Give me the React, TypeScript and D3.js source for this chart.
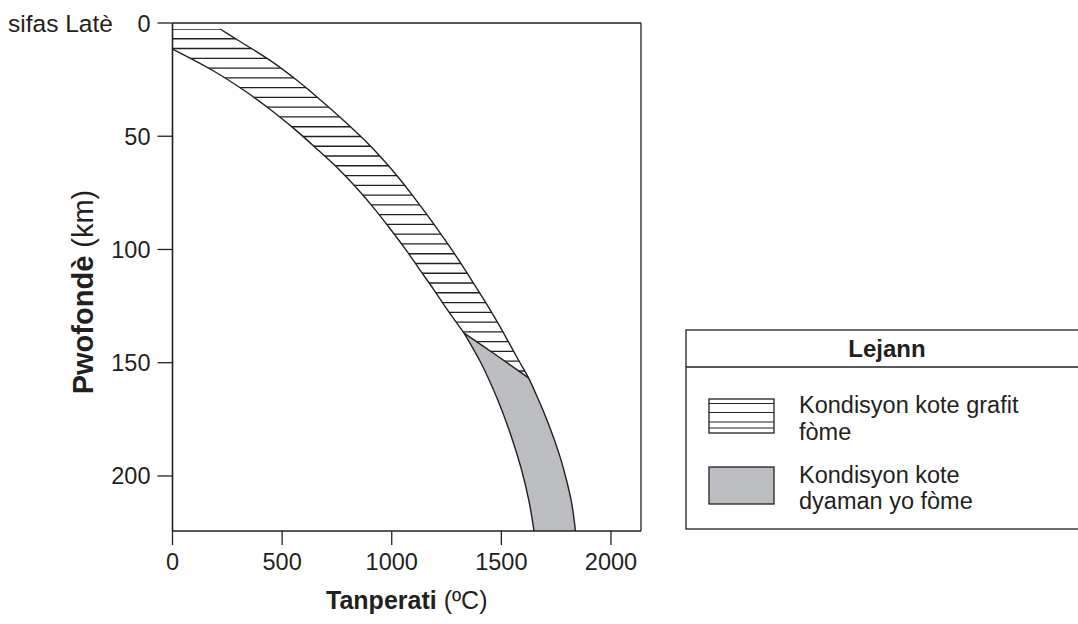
import React from "react";
import * as d3 from "d3";

// ---- Data (temperature °C, depth km) ----
const xTicks = [0, 500, 1000, 1500, 2000];
const yTicks = [0, 50, 100, 150, 200];
const tempMax = 2137;
const depthMax = 224.3;

// lower (left) boundary of graphite region
const graphiteLeftT = [0, 180, 324, 449, 561, 664, 762, 848, 926, 997, 1065, 1129, 1193, 1254, 1330];
const graphiteLeftD = [11.5, 20.75, 29.6, 38.4, 47.2, 56.1, 64.9, 73.7, 82.6, 91.4, 100.2, 109.1, 117.9, 126.7, 136.9];

// right boundary (geotherm) from surface to bottom
const rightT = [217, 297, 442, 566, 675, 778, 876, 962, 1040, 1111, 1179, 1243, 1305, 1364, 1421, 1476, 1528, 1578, 1624, 1670, 1708, 1742, 1772, 1797, 1818, 1829, 1838];
const rightD = [2.65, 7.5, 16.3, 25.2, 34.0, 42.8, 51.7, 60.5, 69.3, 78.2, 87.0, 95.8, 104.6, 113.5, 122.3, 131.1, 140.0, 148.8, 156.7, 166.5, 175.3, 184.1, 192.9, 201.8, 210.6, 217.2, 224.3];
const junctionIndex = 18; // index in right curve where diamond field begins

// top boundary of diamond region
const diamondTopT = [1330, 1476, 1624];
const diamondTopD = [136.9, 146.6, 156.7];

// left boundary of diamond region
const diamondLeftT = [1330, 1407, 1480, 1540, 1590, 1626, 1649];
const diamondLeftD = [136.9, 150.1, 165.6, 181.0, 196.5, 211.1, 224.3];

const surfaceLabel = "sifas Latè";
const xTitleBold = "Tanperati";
const xTitleUnit = " (ºC)";
const yTitleBold = "Pwofondè";
const yTitleUnit = " (km)";
const legendTitle = "Lejann";
const legendGraphite = ["Kondisyon kote grafit", "fòme"];
const legendDiamond = ["Kondisyon kote", "dyaman yo fòme"];

const FONT = "'Liberation Sans', Arial, Helvetica, sans-serif";
const INK = "#231f20";
const GRAY = "#bcbdc0";

type P = [number, number];
const zip = (a: number[], b: number[]): P[] => a.map((v, i) => [v, b[i]]);

export default function App() {
  const x = d3.scaleLinear().domain([0, tempMax]).range([172.5, 641]);
  const y = d3.scaleLinear().domain([0, depthMax]).range([23, 531]);

  const line = d3
    .line<P>()
    .x((d) => x(d[0]))
    .y((d) => y(d[1]))
    .curve(d3.curveCatmullRom.alpha(0.5));

  const seg = (pts: P[], first: boolean) => {
    const s = line(pts) || "";
    return first ? s : s.replace(/^M/, "L");
  };

  const gLeft = zip(graphiteLeftT, graphiteLeftD);
  const right = zip(rightT, rightD);
  const rightUpper = right.slice(0, junctionIndex + 1);
  const rightLower = right.slice(junctionIndex);
  const dTop = zip(diamondTopT, diamondTopD);
  const dLeft = zip(diamondLeftT, diamondLeftD);

  const graphitePath =
    seg(rightUpper, true) +
    seg([...dTop].reverse(), false) +
    seg([...gLeft].reverse(), false) +
    `L${x(0)},${y(rightD[0])}Z`;

  const diamondPath =
    seg(dTop, true) +
    seg(rightLower, false) +
    seg([...dLeft].reverse(), false) +
    "Z";

  // hatch line positions (pixel pattern)
  const hatchTop = y(rightD[0]);
  const hatchYs = d3.range(hatchTop, y(diamondTopD[diamondTopD.length - 1]) + 1, 9.77);

  const left = x(0);
  const rightEdge = x(tempMax);
  const top = y(0);
  const bottom = y(depthMax);

  return (
    <svg width={1078} height={624} style={{ position: "absolute", left: 0, top: 0, background: "#fff" }} fontFamily={FONT}>
      <defs>
        <clipPath id="gclip">
          <path d={graphitePath} />
        </clipPath>
      </defs>

      {/* diamond region */}
      <path d={diamondPath} fill={GRAY} stroke="none" />

      {/* graphite hatching */}
      <g clipPath="url(#gclip)">
        {hatchYs.map((hy, i) => (
          <line key={i} x1={left} x2={rightEdge} y1={hy} y2={hy} stroke={INK} strokeWidth={1.35} />
        ))}
      </g>

      {/* boundary curves */}
      <path d={line(gLeft) || ""} fill="none" stroke={INK} strokeWidth={1.4} />
      <path d={line(right) || ""} fill="none" stroke={INK} strokeWidth={1.4} />
      <path d={line(dTop) || ""} fill="none" stroke={INK} strokeWidth={1.4} />
      <path d={line(dLeft) || ""} fill="none" stroke={INK} strokeWidth={1.4} />

      {/* frame */}
      <line x1={left} x2={rightEdge} y1={top} y2={top} stroke={INK} strokeWidth={1.3} />
      <line x1={rightEdge} x2={rightEdge} y1={top} y2={bottom} stroke={INK} strokeWidth={1.3} />
      <line x1={left} x2={left} y1={top} y2={bottom} stroke={INK} strokeWidth={1.6} />
      <line x1={left} x2={rightEdge} y1={bottom} y2={bottom} stroke={INK} strokeWidth={1.6} />

      {/* x ticks */}
      {xTicks.map((t) => (
        <g key={t}>
          <line x1={x(t)} x2={x(t)} y1={bottom} y2={bottom + 14} stroke={INK} strokeWidth={1.3} />
          <text x={x(t)} y={570} textAnchor="middle" fontSize={23.5} fill={INK}>
            {t}
          </text>
        </g>
      ))}

      {/* y ticks */}
      {yTicks.map((t) => (
        <g key={t}>
          <line x1={left - 15} x2={left} y1={y(t)} y2={y(t)} stroke={INK} strokeWidth={1.3} />
          <text x={left - 22} y={y(t) + 8.5} textAnchor="end" fontSize={23.5} fill={INK}>
            {t}
          </text>
        </g>
      ))}
      <text x={8} y={y(0) + 8.5} fontSize={24.5} fill={INK}>
        {surfaceLabel}
      </text>

      {/* axis titles */}
      <text x={(left + rightEdge) / 2} y={609} textAnchor="middle" fontSize={25} fill={INK}>
        <tspan fontWeight="bold">{xTitleBold}</tspan>
        <tspan>{xTitleUnit}</tspan>
      </text>
      <text
        transform={`translate(${93},${292}) rotate(-90)`}
        textAnchor="middle"
        fontSize={29}
        fill={INK}
      >
        <tspan fontWeight="bold">{yTitleBold}</tspan>
        <tspan>{yTitleUnit}</tspan>
      </text>

      {/* legend */}
      <g>
        <rect x={686} y={330} width={400} height={199} fill="none" stroke={INK} strokeWidth={1.3} />
        <line x1={686} x2={1086} y1={367} y2={367} stroke={INK} strokeWidth={1.3} />
        <text x={887} y={357} textAnchor="middle" fontSize={24} fontWeight="bold" fill={INK}>
          {legendTitle}
        </text>
        <rect x={709} y={399} width={65} height={34} fill="#fff" stroke={INK} strokeWidth={1.3} />
        {[403.5, 412.5, 422, 428].map((ly) => (
          <line key={ly} x1={709} x2={774} y1={ly} y2={ly} stroke={INK} strokeWidth={1.2} />
        ))}
        <rect x={709} y={467} width={65} height={37} fill={GRAY} stroke={INK} strokeWidth={1.3} />
        <text x={799} y={413} fontSize={23.5} fill={INK}>{legendGraphite[0]}</text>
        <text x={799} y={440} fontSize={23.5} fill={INK}>{legendGraphite[1]}</text>
        <text x={799} y={483} fontSize={23.5} fill={INK}>{legendDiamond[0]}</text>
        <text x={799} y={509} fontSize={23.5} fill={INK}>{legendDiamond[1]}</text>
      </g>
    </svg>
  );
}
